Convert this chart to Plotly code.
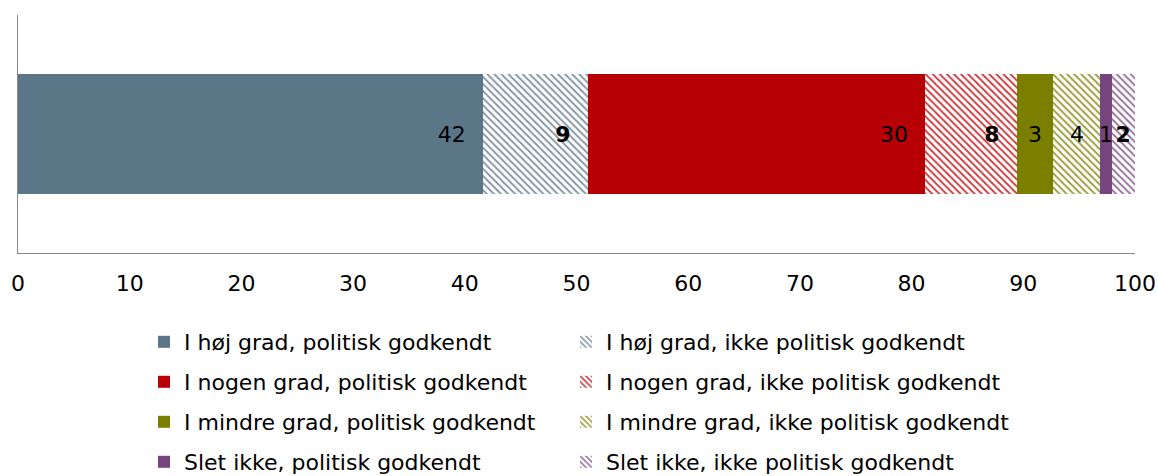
import plotly.graph_objects as go

# Data
series_names = [
    "I høj grad, politisk godkendt",
    "I høj grad, ikke politisk godkendt",
    "I nogen grad, politisk godkendt",
    "I nogen grad, ikke politisk godkendt",
    "I mindre grad, politisk godkendt",
    "I mindre grad, ikke politisk godkendt",
    "Slet ikke, politisk godkendt",
    "Slet ikke, ikke politisk godkendt",
]
series_values = [41.6, 9.4, 30.2, 8.2, 3.3, 4.2, 1.0, 2.1]
category = [""]
x_ticks = [0, 10, 20, 30, 40, 50, 60, 70, 80, 90, 100]

colors = ["#5B7687", "#5B7687", "#B60005", "#B60005",
          "#7A7F00", "#7A7F00", "#76457E", "#76457E"]
hatched = [False, True, False, True, False, True, False, True]
bold = [False, True, False, True, False, False, False, True]
anchors = ["end", "end", "end", "end", "middle", "middle", "middle", "middle"]

FONT = "Verdana, DejaVu Sans, sans-serif"
FS = 22
W, H = 1158, 476

# legend layout: two columns, four rows (screen pixel positions)
col_left = [144, 566]
row_center = [342, 382, 422, 462]

fig = go.Figure()
legend_layout = {}
for i, (name, val) in enumerate(zip(series_names, series_values)):
    pad = "\u00a0\u00a0" if anchors[i] == "end" else ""
    tmpl = ("<b>%{x:.0f}</b>" if bold[i] else "%{x:.0f}") + pad
    marker = dict(color=colors[i] if not hatched[i] else "white", line=dict(width=0))
    if hatched[i]:
        marker["pattern"] = dict(shape="\\", fgcolor=colors[i], bgcolor="white",
                                 size=5, solidity=0.4, fgopacity=0.75)
    lid = "legend" if i == 0 else f"legend{i + 1}"
    fig.add_trace(go.Bar(
        x=[val], y=category, name=name, orientation="h",
        marker=marker,
        texttemplate=tmpl, textposition="inside", insidetextanchor=anchors[i],
        textfont=dict(family=FONT, size=FS, color="black"),
        constraintext="none",
        legend=lid,
        width=0.504,
    ))
    legend_layout[lid] = dict(
        orientation="h", xref="container", yref="container",
        x=col_left[i % 2] / W, y=1 - row_center[i // 2] / H,
        xanchor="left", yanchor="middle",
        font=dict(family=FONT, size=FS, color="black"),
        bgcolor="rgba(0,0,0,0)",
    )

fig.update_layout(
    barmode="stack",
    width=W, height=H,
    margin=dict(l=18, r=23, t=15, b=223, autoexpand=False),
    paper_bgcolor="white", plot_bgcolor="white",
    font=dict(family=FONT, size=FS, color="black"),
    uniformtext=dict(minsize=FS, mode="show"),
    xaxis=dict(range=[0, 100], tickvals=x_ticks, ticktext=[str(t) for t in x_ticks],
               showgrid=False, zeroline=False, showline=True, automargin=False,
               linecolor="#868686", linewidth=1, ticks="",
               ticklabelstandoff=11, ticklabeloverflow="allow",
               tickfont=dict(family=FONT, size=FS, color="black")),
    yaxis=dict(showgrid=False, zeroline=False, showline=True, automargin=False,
               linecolor="#868686", linewidth=1, showticklabels=False, ticks=""),
    showlegend=True,
    **legend_layout,
)

fig.write_html(
    "out.html",
    config={"displayModeBar": False},
    post_script="document.documentElement.style.overflow='hidden';"
                "document.body.style.margin='0';document.body.style.overflow='hidden';",
)
